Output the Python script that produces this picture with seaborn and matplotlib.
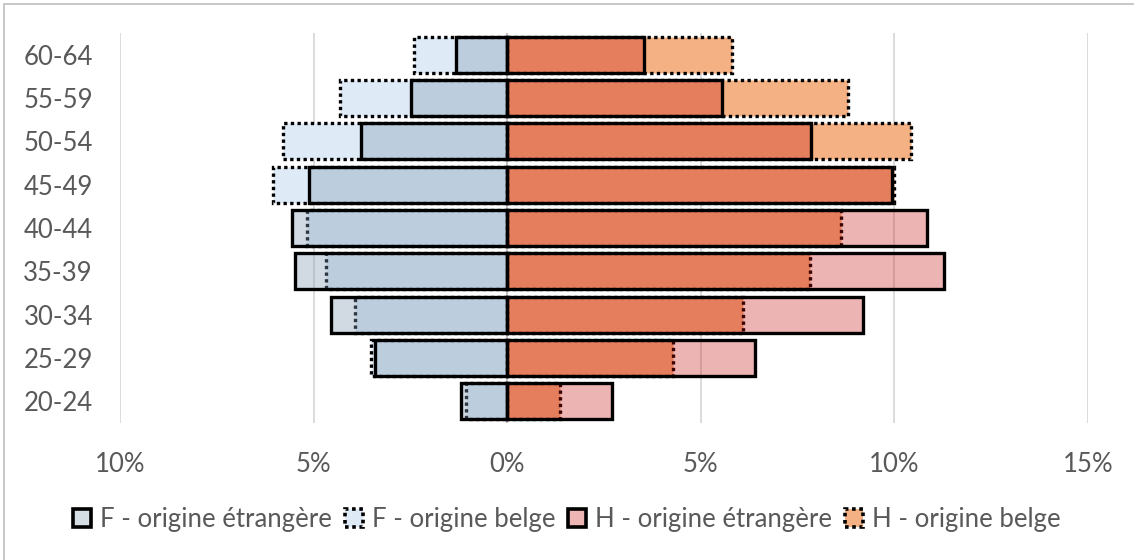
import matplotlib
matplotlib.use("Agg")
import matplotlib.pyplot as plt
from matplotlib.patches import Patch, Rectangle
from matplotlib.ticker import FuncFormatter
import seaborn as sns
import pandas as pd

# Age groups, oldest at the top
age_groups = ["60-64", "55-59", "50-54", "45-49", "40-44", "35-39", "30-34", "25-29", "20-24"]

# Share of population (%) per age group
f_etrangere = [1.31, 2.49, 3.78, 5.13, 5.55, 5.48, 4.54, 3.42, 1.20]
f_belge = [2.40, 4.33, 5.80, 6.05, 5.16, 4.67, 3.93, 3.52, 1.07]
h_etrangere = [3.53, 5.56, 7.85, 9.93, 10.84, 11.27, 9.18, 6.40, 2.70]
h_belge = [5.81, 8.81, 10.42, 10.00, 8.61, 7.82, 6.10, 4.27, 1.36]

series_labels = ["F - origine étrangère", "F - origine belge",
                 "H - origine étrangère", "H - origine belge"]
x_ticks = [-10, -5, 0, 5, 10, 15]

df = pd.DataFrame({
    "age": age_groups,
    "f_etr": [-v for v in f_etrangere],
    "f_bel": [-v for v in f_belge],
    "h_etr": h_etrangere,
    "h_bel": h_belge,
})

sns.set_theme(style="white")
plt.rcParams["font.family"] = ["Lato", "DejaVu Sans"]

TEXT = "#595959"
GRID = "#D9D9D9"
F_BELGE = "#DEEBF7"
H_BELGE = "#F4B183"
# foreign-origin bars are translucent so the overlap reads darker
F_ETR = (0.50, 0.60, 0.70, 0.36)
H_ETR = (0.763, 0.033, 0.007, 0.30)
DOTS = (0, (1, 1.0))
LW = 2.4
BAR_W = 0.83
FS = 18.5

fig = plt.figure(figsize=(11.34, 5.6), dpi=100)
ax = fig.add_axes([120 / 1134, 1 - 423 / 560, 968 / 1134, 390 / 560])

common = dict(data=df, y="age", order=age_groups, orient="h", width=BAR_W,
              saturation=1, edgecolor="black", ax=ax, zorder=3)

# Belgian origin: opaque, dotted outline
sns.barplot(x="f_bel", color=F_BELGE, linewidth=LW, linestyle=DOTS, **common)
sns.barplot(x="h_bel", color=H_BELGE, linewidth=LW, linestyle=DOTS, **common)
# Foreign origin: solid outline
sns.barplot(x="f_etr", color=F_ETR[:3], linewidth=LW, **common)
sns.barplot(x="h_etr", color=H_ETR[:3], linewidth=LW, **common)

# Translucent fill with an opaque black edge for the foreign-origin bars
n = len(age_groups)
for i, p in enumerate(ax.patches[-2 * n:]):
    p.set_alpha(None)
    p.set_facecolor(F_ETR if i < n else H_ETR)
    p.set_edgecolor((0, 0, 0, 1))

ax.set_xlim(x_ticks[0], x_ticks[-1])
ax.set_ylim(n - 0.5, -0.5)
ax.set_xticks(x_ticks)
ax.xaxis.set_major_formatter(FuncFormatter(lambda v, _: f"{abs(v):.0f}%"))
ax.grid(axis="x", color=GRID, linewidth=1.3, zorder=0)
ax.set_axisbelow(True)
ax.axvline(0, color="#BFBFBF", linewidth=1.3, zorder=2)
for s in ax.spines.values():
    s.set_visible(False)
ax.set_xlabel("")
ax.set_ylabel("")
ax.tick_params(axis="both", length=0, labelsize=FS, colors=TEXT)
ax.tick_params(axis="x", pad=21)
ax.tick_params(axis="y", pad=19.5)

handles = [
    Patch(facecolor=(0.835, 0.867, 0.898), edgecolor="black", linewidth=2.6),
    Patch(facecolor=F_BELGE, edgecolor="black", linewidth=2.6, linestyle=DOTS),
    Patch(facecolor=(0.929, 0.710, 0.702), edgecolor="black", linewidth=2.6),
    Patch(facecolor=H_BELGE, edgecolor="black", linewidth=2.6, linestyle=DOTS),
]
fig.legend(handles, series_labels, loc="center", bbox_to_anchor=(0.5, 1 - 519 / 560),
           ncol=4, frameon=False, fontsize=FS, labelcolor=TEXT,
           handlelength=0.7, handleheight=0.7, handletextpad=0.35, columnspacing=0.5)

# Chart frame
fig.patches.append(Rectangle((3.5 / 1134, -0.1), 1.2, 1 - 3.5 / 560 + 0.1,
                             transform=fig.transFigure, fill=False,
                             edgecolor="#BFBFBF", linewidth=1.2))

fig.savefig("out.png", dpi=100)
